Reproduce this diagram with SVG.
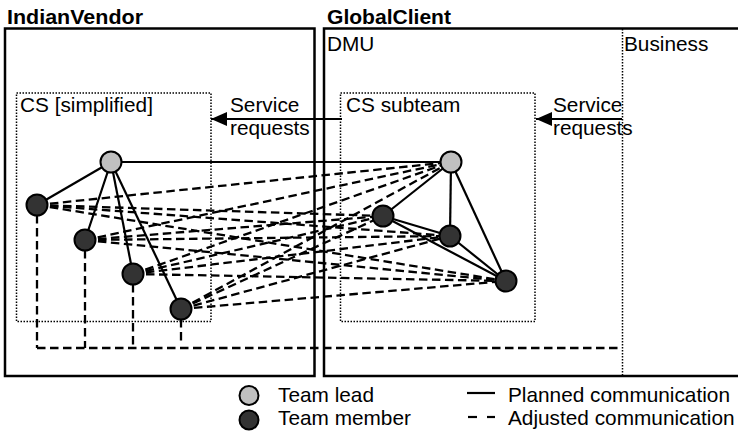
<svg xmlns="http://www.w3.org/2000/svg" width="738" height="436" viewBox="0 0 738 436">
<style>
text{font-family:"Liberation Sans",Arial,sans-serif;font-size:20.8px;fill:#000}
.title{font-weight:bold}
.box{fill:none;stroke:#000;stroke-width:2.5}
.dot{fill:none;stroke:#000;stroke-width:1.5;stroke-dasharray:1.5,1.5}
.solid{stroke:#000;stroke-width:2.2;fill:none}
.dash{stroke:#000;stroke-width:2.3;fill:none;stroke-dasharray:8.5,4.5}
.lead{fill:#c0c0c0;stroke:#000;stroke-width:2}
.member{fill:#333;stroke:#000;stroke-width:2}
</style>
<defs>
<marker id="ah" markerWidth="16" markerHeight="14" refX="16" refY="7" orient="auto" markerUnits="userSpaceOnUse">
<path d="M0,0 L16,7 L0,14 Z" fill="#000"/>
</marker>
</defs>
<rect width="738" height="436" fill="#fff"/>
<g id="IndianVendor">
<rect class="box" x="5" y="28.5" width="309.5" height="347.5"/>
<text class="title" x="7" y="23.5" textLength="136" lengthAdjust="spacingAndGlyphs">IndianVendor</text>
</g>
<g id="GlobalClient">
<rect class="box" x="324" y="28.5" width="430" height="347.5"/>
<text class="title" x="327" y="23.5" textLength="124" lengthAdjust="spacingAndGlyphs">GlobalClient</text>
<text x="327" y="51">DMU</text>
</g>
<g id="Business">
<line class="dot" x1="622.5" y1="29" x2="622.5" y2="376"/>
<text x="624" y="51">Business</text>
</g>
<g id="CS-simplified">
<rect class="dot" x="16.5" y="93" width="194.5" height="228.5"/>
<text x="20" y="112">CS [simplified]</text>
</g>
<g id="CS-subteam">
<rect class="dot" x="340.5" y="93" width="194.5" height="228.5"/>
<text x="346" y="112">CS subteam</text>
</g>
<g id="connectors">
<line class="solid" x1="342" y1="119" x2="211" y2="119" marker-end="url(#ah)"/>
<text x="230" y="112">Service</text>
<text x="230" y="135">requests</text>
<line class="solid" x1="622" y1="119" x2="536" y2="119" marker-end="url(#ah)"/>
<text x="553" y="112">Service</text>
<text x="553" y="135">requests</text>
<g class="dash-group">
<line class="dash" x1="37" y1="205" x2="451" y2="162"/>
<line class="dash" x1="37" y1="205" x2="383" y2="216"/>
<line class="dash" x1="37" y1="205" x2="450" y2="236"/>
<line class="dash" x1="37" y1="205" x2="506" y2="281"/>
<line class="dash" x1="85" y1="240" x2="451" y2="162"/>
<line class="dash" x1="85" y1="240" x2="383" y2="216"/>
<line class="dash" x1="85" y1="240" x2="450" y2="236"/>
<line class="dash" x1="85" y1="240" x2="506" y2="281"/>
<line class="dash" x1="133" y1="274" x2="451" y2="162"/>
<line class="dash" x1="133" y1="274" x2="383" y2="216"/>
<line class="dash" x1="133" y1="274" x2="450" y2="236"/>
<line class="dash" x1="133" y1="274" x2="506" y2="281"/>
<line class="dash" x1="181" y1="309" x2="451" y2="162"/>
<line class="dash" x1="181" y1="309" x2="383" y2="216"/>
<line class="dash" x1="181" y1="309" x2="450" y2="236"/>
<line class="dash" x1="181" y1="309" x2="506" y2="281"/>
<line class="dash" x1="37" y1="215" x2="37" y2="348"/>
<line class="dash" x1="85" y1="250" x2="85" y2="348"/>
<line class="dash" x1="133" y1="284" x2="133" y2="348"/>
<line class="dash" x1="181" y1="319" x2="181" y2="344"/>
<line class="dash" x1="37" y1="348" x2="622" y2="348"/>
</g>
<line class="solid" x1="111" y1="162" x2="37" y2="205"/>
<line class="solid" x1="111" y1="162" x2="85" y2="240"/>
<line class="solid" x1="111" y1="162" x2="133" y2="274"/>
<line class="solid" x1="111" y1="162" x2="181" y2="309"/>
<line class="solid" x1="111" y1="162" x2="451" y2="162"/>
<line class="solid" x1="451" y1="162" x2="383" y2="216"/>
<line class="solid" x1="451" y1="162" x2="450" y2="236"/>
<line class="solid" x1="451" y1="162" x2="506" y2="281"/>
<line class="solid" x1="383" y1="216" x2="450" y2="236"/>
<line class="solid" x1="383" y1="216" x2="506" y2="281"/>
<line class="solid" x1="450" y1="236" x2="506" y2="281"/>
</g>
<g id="vendor-lead"><circle class="lead" cx="111" cy="162" r="10.5"/></g>
<g id="vendor-m1"><circle class="member" cx="37" cy="205" r="10.5"/></g>
<g id="vendor-m2"><circle class="member" cx="85" cy="240" r="10.5"/></g>
<g id="vendor-m3"><circle class="member" cx="133" cy="274" r="10.5"/></g>
<g id="vendor-m4"><circle class="member" cx="181" cy="309" r="10.5"/></g>
<g id="client-lead"><circle class="lead" cx="451" cy="162" r="10.5"/></g>
<g id="client-m1"><circle class="member" cx="383" cy="216" r="10.5"/></g>
<g id="client-m2"><circle class="member" cx="450" cy="236" r="10.5"/></g>
<g id="client-m3"><circle class="member" cx="506" cy="281" r="10.5"/></g>
<g id="legend">
<circle class="lead" cx="249" cy="395.5" r="9.5"/>
<text x="278" y="402">Team lead</text>
<circle class="member" cx="249" cy="420" r="9.5"/>
<text x="278" y="425">Team member</text>
<line class="solid" x1="467" y1="393" x2="495" y2="393"/>
<text x="508" y="402">Planned communication</text>
<line class="solid" x1="468" y1="417" x2="477" y2="417"/>
<line class="solid" x1="487" y1="417" x2="495" y2="417"/>
<text x="508" y="425">Adjusted communication</text>
</g>
</svg>
